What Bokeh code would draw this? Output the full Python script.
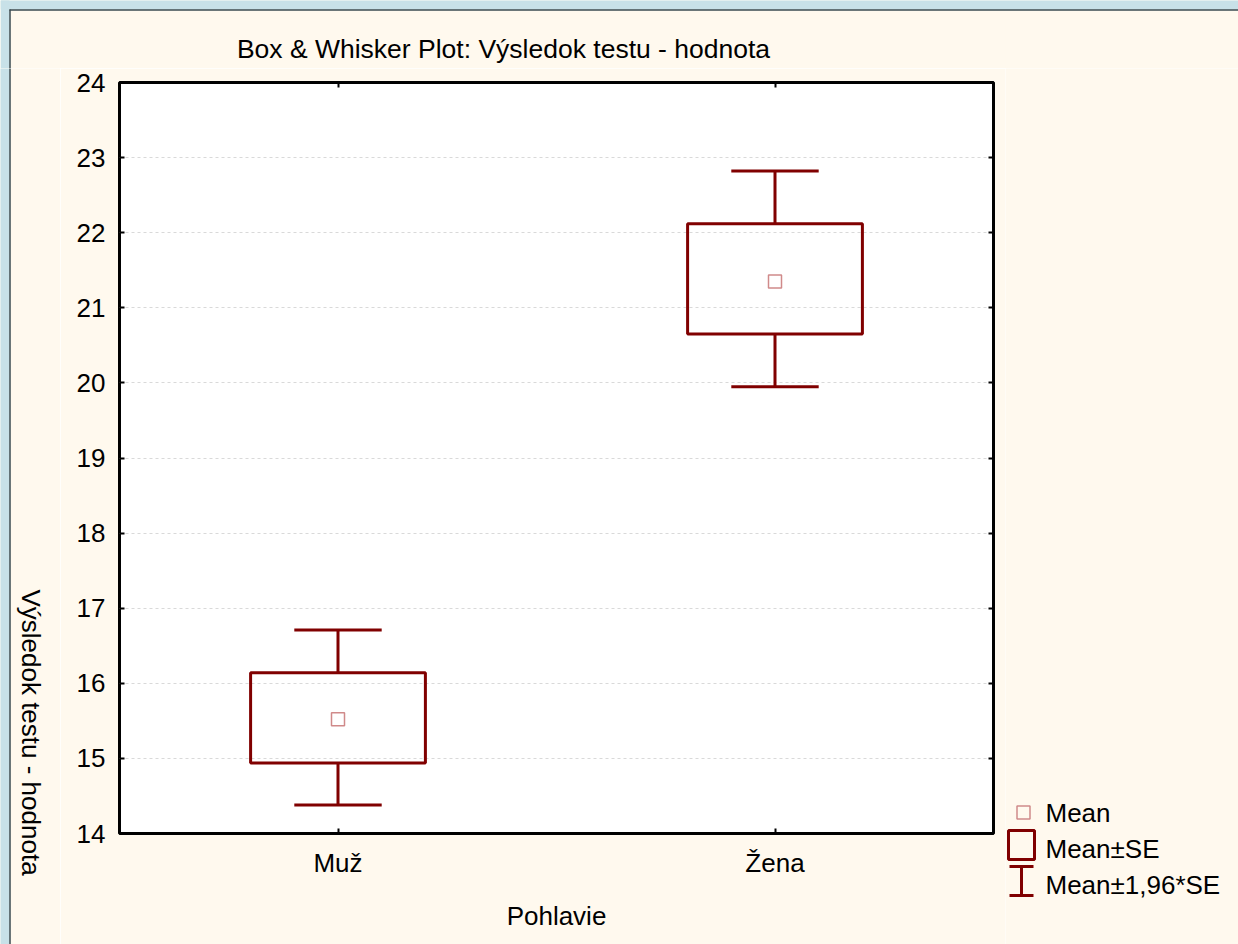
import math
from bokeh.plotting import figure
from bokeh.models import (FactorRange, Range1d, LinearAxis, CategoricalAxis, FixedTicker,
                          ColumnDataSource)
from bokeh.transform import dodge
from bokeh.layouts import row, column
from bokeh.embed import file_html
from bokeh.resources import INLINE
from bokeh.core.properties import value

# ---- data ----
groups = ["Muž", "Žena"]
means = [15.52, 21.35]
se_low = [14.94, 20.65]
se_high = [16.14, 22.12]
ci_low = [14.38, 19.95]
ci_high = [16.71, 22.82]
y_ticks = [14, 15, 16, 17, 18, 19, 20, 21, 22, 23, 24]
legend_labels = ["Mean", "Mean±SE", "Mean±1,96*SE"]
title_text = "Box & Whisker Plot: Výsledok testu - hodnota"
x_label = "Pohlavie"
y_label = "Výsledok testu - hodnota"

FONT = "Liberation Sans"
CREAM = "#FFF9EE"
DARK = "#800000"
PINK = "#D08A8A"
GRID = "#D9D9D9"
BLUE = "#C8E1E8"
EDGE = "#3A4A50"

W, H = 1238, 944
TOP_H = 68          # height of the title strip
LEFT_W = 60         # width of the y-label strip
ROW_H = H - TOP_H
P_W = 945           # main plot figure width
LEG_W = W - LEFT_W - P_W


def strip_fig(width, height, x0, y0):
    f = figure(width=width, height=height,
               x_range=Range1d(x0, x0 + width), y_range=Range1d(y0 + height, y0),
               min_border=0, output_backend="svg", toolbar_location=None,
               x_axis_location=None, y_axis_location=None)
    f.outline_line_color = None
    f.background_fill_color = CREAM
    f.border_fill_color = CREAM
    f.grid.visible = False
    return f


# ---- title strip ----
top_fig = strip_fig(W, TOP_H, 0, 0)
top_fig.quad(left=[0, 0], right=[W, 9], top=[-2, -2], bottom=[9, TOP_H + 4],
             fill_color=BLUE, line_color=None)
top_fig.segment(x0=[9, 9.5], y0=[9.5, 9], x1=[W + 2, 9.5], y1=[9.5, TOP_H + 4],
                line_color=EDGE, line_width=1.5)
top_fig.text(x=[503], y=[48], text=[title_text], text_font=value(FONT),
             text_font_size="26.5px", text_align="center", text_baseline="middle",
             text_color="black")

# ---- y-label strip ----
left_fig = strip_fig(LEFT_W, ROW_H, 0, TOP_H)
left_fig.quad(left=[-2], right=[9], top=[TOP_H - 4], bottom=[H + 4],
              fill_color=BLUE, line_color=None)
left_fig.segment(x0=[9.5], y0=[TOP_H - 4], x1=[9.5], y1=[H + 4],
                 line_color=EDGE, line_width=1.5)
left_fig.text(x=[30], y=[732], text=[y_label], angle=-math.pi / 2,
              text_font=value(FONT), text_font_size="26px", text_align="center",
              text_baseline="middle", text_color="black")

# ---- main plot ----
src = ColumnDataSource(dict(g=groups, mean=means, se_low=se_low, se_high=se_high,
                            ci_low=ci_low, ci_high=ci_high))

p = figure(x_range=FactorRange(factors=groups), y_range=Range1d(14, 24),
           width=P_W, height=ROW_H,
           min_border_left=59, min_border_right=12, min_border_top=14,
           min_border_bottom=ROW_H - 14 - 751,
           output_backend="svg", toolbar_location=None)
p.background_fill_color = "white"
p.border_fill_color = CREAM
p.outline_line_color = "black"
p.outline_line_width = 3

# box (mean ± SE)
p.quad(left=dodge("g", -0.2, range=p.x_range), right=dodge("g", 0.2, range=p.x_range),
       bottom="se_low", top="se_high", fill_color=None, line_color=DARK, line_width=3,
       source=src)
# whisker stems
p.segment(x0="g", y0="se_high", x1="g", y1="ci_high", line_color=DARK, line_width=3, source=src)
p.segment(x0="g", y0="se_low", x1="g", y1="ci_low", line_color=DARK, line_width=3, source=src)
# whisker caps
p.segment(x0=dodge("g", -0.1, range=p.x_range), y0="ci_high",
          x1=dodge("g", 0.1, range=p.x_range), y1="ci_high",
          line_color=DARK, line_width=3, source=src)
p.segment(x0=dodge("g", -0.1, range=p.x_range), y0="ci_low",
          x1=dodge("g", 0.1, range=p.x_range), y1="ci_low",
          line_color=DARK, line_width=3, source=src)
# mean marker
p.scatter(x="g", y="mean", marker="square", size=13, fill_color=None,
          line_color=PINK, line_width=1.5, source=src)

# grid
p.xgrid.visible = False
p.ygrid.ticker = FixedTicker(ticks=y_ticks)
p.ygrid.grid_line_color = GRID
p.ygrid.grid_line_dash = "3 3"
p.ygrid.grid_line_width = 1

# left axis
ya = p.yaxis[0]
ya.ticker = FixedTicker(ticks=y_ticks)
ya.axis_line_color = None
ya.major_tick_in = 5
ya.major_tick_out = 0
ya.major_tick_line_width = 2
ya.minor_tick_line_color = None
ya.major_label_text_font = FONT
ya.major_label_text_font_size = "26px"
ya.major_label_text_color = "black"
ya.major_label_standoff = 14

# bottom axis
xa = p.xaxis[0]
xa.axis_line_color = None
xa.major_tick_in = 5
xa.major_tick_out = 0
xa.major_tick_line_width = 2
xa.major_label_text_font = FONT
xa.major_label_text_font_size = "26px"
xa.major_label_text_color = "black"
xa.major_label_standoff = 14
xa.axis_label = x_label
xa.axis_label_text_font = FONT
xa.axis_label_text_font_size = "26px"
xa.axis_label_text_font_style = "normal"
xa.axis_label_text_color = "black"
xa.axis_label_standoff = 20

# top and right axes: inward ticks only, labels not drawn
top = CategoricalAxis(axis_line_color=None, major_tick_in=5, major_tick_out=0,
                      major_tick_line_width=2, major_label_text_font_size="8px",
                      major_label_text_color=None, major_label_standoff=0)
p.add_layout(top, "above")
right = LinearAxis(ticker=FixedTicker(ticks=y_ticks), axis_line_color=None,
                   major_tick_in=5, major_tick_out=0, major_tick_line_width=2,
                   minor_tick_line_color=None, major_label_text_font_size="8px",
                   major_label_text_color=None, major_label_standoff=0)
p.add_layout(right, "right")

# ---- legend strip ----
leg = strip_fig(LEG_W, ROW_H, 0, TOP_H)
leg.scatter(x=[18], y=[812], marker="square", size=13, fill_color=None,
            line_color=PINK, line_width=1.5)
leg.rect(x=[16], y=[844.5], width=26, height=29, fill_color=None,
         line_color=DARK, line_width=3)
leg.segment(x0=[4, 4, 16], y0=[866, 895, 866], x1=[28, 28, 16], y1=[866, 895, 895],
            line_color=DARK, line_width=3)
leg.text(x=[40, 40, 40], y=[812, 848, 884], text=legend_labels,
         text_font=value(FONT), text_font_size="26px", text_baseline="middle",
         text_align="left", text_color="black")

# side strips wrapped in their own columns so their frames are not aligned with p's
layout = column(top_fig, row(column(left_fig), p, column(leg)))
open("out.html", "w").write(file_html(layout, INLINE))
